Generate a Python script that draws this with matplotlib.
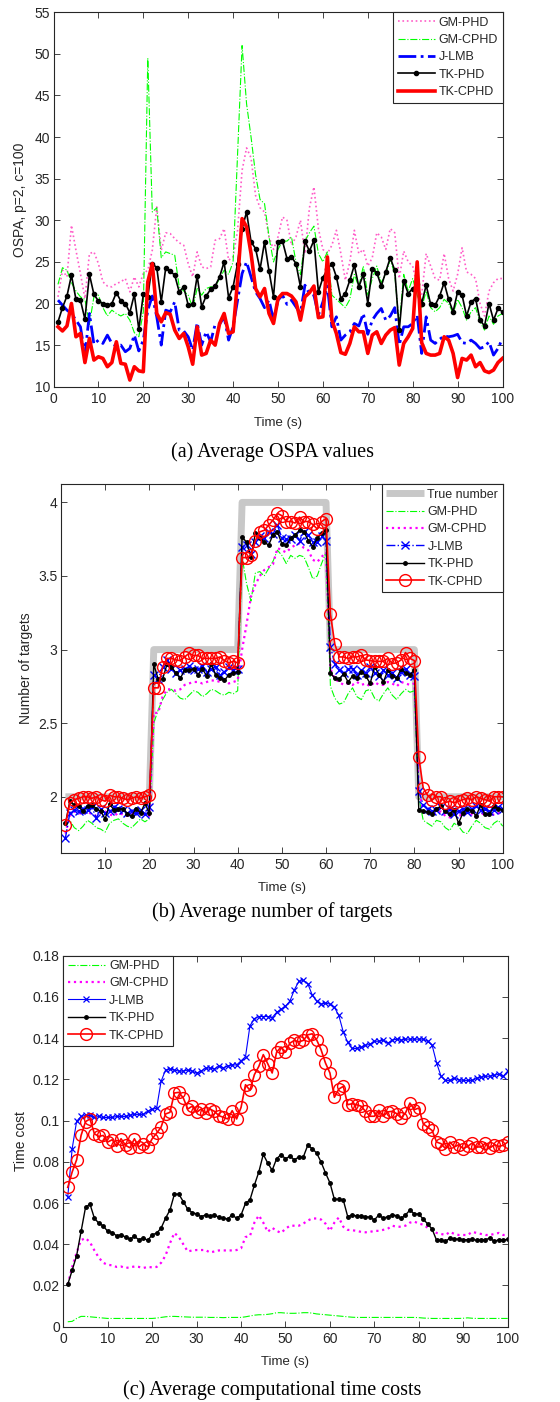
import numpy as np
import matplotlib
matplotlib.use("Agg")
import matplotlib.pyplot as plt
from matplotlib.ticker import FuncFormatter

plt.rcParams['font.family'] = ['Liberation Sans', 'DejaVu Sans']
plt.rcParams['text.color'] = '#262626'
plt.rcParams['axes.labelcolor'] = '#262626'
plt.rcParams['xtick.color'] = '#262626'
plt.rcParams['ytick.color'] = '#262626'

time_steps = list(range(1, 101))

# ---------------- (a) OSPA ----------------
ospa_gm_phd = [20.8, 24.0, 23.2, 29.4, 26.4, 23.6, 20.6, 26.0, 26.2, 24.8,
               22.6, 22.1, 22.0, 22.4, 22.6, 23.0, 21.4, 23.2, 22.0, 23.6,
               24.0, 26.4, 31.6, 26.4, 28.5, 28.4, 27.8, 27.3, 27.0, 24.8,
               23.2, 26.2, 24.4, 24.2, 24.4, 27.6, 27.8, 29.0, 25.2, 25.6,
               28.8, 36.0, 38.7, 37.5, 33.0, 31.5, 31.0, 28.0, 26.5, 28.0,
               30.4, 30.0, 27.0, 28.0, 30.0, 26.0, 31.5, 34.0, 29.0, 26.5,
               26.0, 27.0, 28.8, 26.0, 22.8, 25.0, 28.8, 26.0, 26.5, 24.5,
               25.5, 28.5, 28.0, 26.5, 29.0, 28.5, 23.0, 26.3, 25.0, 24.5,
               22.0, 21.0, 26.0, 24.5, 23.0, 22.8, 26.0, 23.0, 21.5, 23.5,
               26.7, 23.8, 23.5, 23.0, 20.0, 18.5, 21.5, 22.5, 23.0, 23.0]
ospa_gm_cphd = [22.3, 24.3, 24.0, 22.5, 21.5, 20.8, 20.5, 17.5, 20.8, 21.0,
                19.5, 18.5, 19.2, 18.8, 18.5, 18.8, 18.0, 16.5, 16.0, 19.0,
                49.5, 31.0, 31.5, 25.5, 26.2, 26.0, 25.8, 22.0, 21.5, 21.0,
                19.5, 21.8, 21.0, 21.8, 22.0, 22.0, 23.0, 24.0, 23.5, 25.0,
                38.0, 51.0, 44.0, 40.0, 35.5, 32.5, 32.0, 28.0, 25.0, 26.5,
                27.5, 27.5, 28.0, 25.0, 23.5, 27.5, 28.5, 29.3, 26.0, 25.0,
                26.2, 21.0, 20.5, 20.0, 19.5, 20.5, 23.5, 22.0, 24.5, 21.0,
                23.0, 24.5, 22.5, 23.5, 25.3, 23.5, 17.5, 23.5, 21.5, 23.0,
                21.0, 19.5, 21.5, 19.5, 19.0, 19.5, 20.5, 20.0, 18.8, 20.5,
                19.5, 18.0, 19.0, 19.5, 17.8, 16.8, 18.5, 17.5, 18.5, 18.8]
ospa_j_lmb = [20.4, 19.8, 19.2, 18.8, 18.0, 17.2, 13.8, 18.8, 15.1, 15.6,
              15.2, 16.2, 15.2, 14.9, 15.0, 14.2, 14.6, 16.2, 14.3, 15.6,
              19.2, 20.9, 18.4, 15.0, 19.2, 19.0, 20.2, 16.8, 16.7, 16.0,
              14.4, 17.7, 15.0, 16.6, 15.4, 17.5, 17.5, 18.4, 15.6, 17.2,
              20.4, 23.6, 25.0, 23.2, 21.4, 20.6, 19.5, 20.4, 18.0, 20.4,
              21.0, 19.9, 20.4, 19.6, 18.8, 22.2, 21.2, 21.0, 18.6, 20.2,
              22.1, 17.2, 18.4, 15.6, 16.2, 16.6, 17.6, 17.3, 18.8, 16.3,
              18.0, 18.8, 19.4, 18.0, 18.5, 19.5, 15.0, 17.2, 17.2, 17.6,
              18.6, 14.0, 18.4, 15.6, 15.2, 15.7, 16.1, 16.0, 16.1, 16.3,
              15.3, 15.2, 15.6, 15.2, 14.6, 14.8, 15.4, 13.8, 14.6, 15.8]
ospa_tk_phd = [17.8, 19.5, 20.9, 23.4, 20.5, 20.4, 18.1, 23.5, 21.1, 20.3,
               20.0, 19.8, 20.0, 21.3, 20.3, 20.0, 18.9, 21.1, 16.9, 21.1,
               20.8, 24.8, 24.3, 20.2, 24.3, 23.9, 23.4, 21.4, 22.0, 19.8,
               19.9, 23.3, 19.6, 20.9, 21.7, 22.1, 23.2, 25.0, 20.7, 22.0,
               24.8, 29.0, 31.0, 27.4, 26.6, 24.1, 27.4, 23.9, 20.8, 27.4,
               27.5, 25.4, 25.6, 24.8, 22.0, 27.5, 26.3, 27.6, 21.4, 23.1,
               24.1, 24.8, 23.2, 20.6, 21.2, 22.8, 24.6, 22.0, 23.5, 20.0,
               24.2, 23.7, 22.1, 23.8, 25.5, 24.0, 16.8, 22.7, 21.2, 21.8,
               22.3, 20.0, 22.2, 19.9, 19.8, 20.9, 22.5, 20.5, 19.0, 21.4,
               21.0, 18.5, 20.2, 20.6, 18.0, 17.3, 20.0, 18.0, 19.4, 19.0]
ospa_tk_cphd = [17.2, 16.7, 17.3, 20.0, 16.0, 16.4, 12.9, 15.8, 13.2, 13.6,
                13.4, 12.4, 12.9, 15.4, 12.8, 12.7, 10.8, 12.4, 11.9, 11.8,
                22.6, 24.8, 18.8, 17.8, 18.9, 18.7, 16.8, 15.8, 16.4, 14.8,
                12.7, 17.2, 13.8, 14.0, 15.6, 15.0, 17.6, 18.8, 16.4, 16.6,
                22.8, 30.2, 29.2, 26.0, 21.8, 20.8, 21.8, 18.8, 17.6, 20.6,
                21.2, 21.2, 20.9, 20.2, 18.0, 20.8, 21.3, 22.1, 18.3, 18.4,
                25.6, 18.0, 16.4, 14.1, 13.9, 15.2, 17.2, 16.6, 16.6, 14.0,
                16.2, 16.6, 15.2, 16.2, 16.8, 17.1, 12.6, 15.2, 16.0, 17.0,
                25.0, 15.3, 14.0, 13.8, 13.8, 14.0, 16.0, 15.6, 14.0, 11.1,
                13.4, 13.2, 13.8, 12.4, 12.9, 11.9, 11.7, 12.0, 12.9, 13.4]

# ---------------- (b) Number of targets ----------------
card_true = [2] * 20 + [3] * 20 + [4] * 20 + [3] * 20 + [2] * 20
card_gm_phd = [1.80, 1.84, 1.79, 1.77, 1.80, 1.84, 1.82, 1.79, 1.78, 1.76,
               1.82, 1.84, 1.85, 1.82, 1.80, 1.79, 1.82, 1.85, 1.83, 1.85,
               2.50, 2.59, 2.66, 2.71, 2.73, 2.70, 2.67, 2.66, 2.69, 2.72,
               2.71, 2.68, 2.70, 2.73, 2.72, 2.70, 2.69, 2.71, 2.70, 2.72,
               3.63, 3.45, 3.33, 3.52, 3.53, 3.50, 3.55, 3.60, 3.675, 3.64,
               3.585, 3.64, 3.62, 3.64, 3.63, 3.56, 3.48, 3.50, 3.585, 3.66,
               2.75, 2.67, 2.63, 2.64, 2.70, 2.74, 2.68, 2.66, 2.72, 2.73,
               2.67, 2.65, 2.70, 2.74, 2.69, 2.66, 2.70, 2.73, 2.71, 2.72,
               2.00, 1.84, 1.82, 1.80, 1.84, 1.83, 1.79, 1.77, 1.82, 1.80,
               1.76, 1.75, 1.80, 1.84, 1.82, 1.79, 1.78, 1.82, 1.84, 1.80]
card_gm_cphd = [1.75, 1.87, 1.90, 1.89, 1.88, 1.90, 1.88, 1.87, 1.89, 1.90,
                1.88, 1.87, 1.89, 1.88, 1.87, 1.88, 1.90, 1.89, 1.88, 1.87,
                2.57, 2.57, 2.68, 2.73, 2.73, 2.72, 2.73, 2.76, 2.77, 2.78,
                2.78, 2.77, 2.78, 2.79, 2.79, 2.78, 2.79, 2.77, 2.78, 2.79,
                3.00, 3.17, 3.36, 3.44, 3.50, 3.54, 3.56, 3.58, 3.69, 3.675,
                3.66, 3.69, 3.71, 3.72, 3.69, 3.675, 3.61, 3.595, 3.63, 3.66,
                2.87, 2.80, 2.78, 2.76, 2.77, 2.76, 2.78, 2.76, 2.77, 2.75,
                2.78, 2.76, 2.76, 2.78, 2.77, 2.75, 2.78, 2.77, 2.76, 2.77,
                2.05, 1.90, 1.89, 1.88, 1.89, 1.90, 1.87, 1.86, 1.88, 1.87,
                1.88, 1.89, 1.88, 1.87, 1.88, 1.89, 1.87, 1.88, 1.89, 1.88]
card_j_lmb = [1.72, 1.89, 1.91, 1.90, 1.92, 1.91, 1.93, 1.855, 1.92, 1.89,
              1.90, 1.93, 1.92, 1.91, 1.89, 1.90, 1.89, 1.91, 1.885, 1.93,
              2.83, 2.80, 2.88, 2.93, 2.87, 2.84, 2.86, 2.87, 2.89, 2.86,
              2.87, 2.89, 2.85, 2.87, 2.88, 2.83, 2.85, 2.88, 2.86, 2.87,
              3.70, 3.71, 3.65, 3.73, 3.77, 3.755, 3.80, 3.785, 3.845, 3.76,
              3.75, 3.75, 3.78, 3.74, 3.80, 3.78, 3.73, 3.73, 3.77, 3.74,
              3.02, 2.90, 2.86, 2.84, 2.87, 2.87, 2.83, 2.86, 2.84, 2.885,
              2.84, 2.82, 2.86, 2.83, 2.84, 2.81, 2.85, 2.87, 2.83, 2.82,
              2.04, 1.945, 1.915, 1.90, 1.91, 1.93, 1.90, 1.915, 1.885, 1.90,
              1.92, 1.895, 1.92, 1.935, 1.91, 1.92, 1.90, 1.91, 1.93, 1.915]
card_tk_phd = [1.82, 1.97, 1.945, 1.935, 1.90, 1.935, 1.945, 1.92, 1.90, 1.85,
               1.95, 1.91, 1.915, 1.92, 1.885, 1.87, 1.92, 1.89, 1.955, 1.89,
               2.90, 2.80, 2.80, 2.90, 2.885, 2.84, 2.805, 2.86, 2.86, 2.87,
               2.83, 2.87, 2.82, 2.90, 2.83, 2.805, 2.79, 2.83, 2.84, 2.85,
               3.765, 3.73, 3.63, 3.79, 3.755, 3.73, 3.71, 3.78, 3.80, 3.72,
               3.71, 3.76, 3.78, 3.81, 3.80, 3.74, 3.70, 3.755, 3.79, 3.81,
               2.84, 2.805, 2.80, 2.835, 2.78, 2.82, 2.805, 2.85, 2.82, 2.77,
               2.885, 2.83, 2.78, 2.86, 2.82, 2.805, 2.87, 2.84, 2.83, 2.86,
               1.91, 1.905, 1.895, 1.885, 1.92, 1.935, 1.90, 1.885, 1.91, 1.82,
               1.89, 1.92, 1.905, 1.87, 1.945, 1.88, 1.88, 1.935, 1.92, 1.91]
card_tk_cphd = [1.81, 1.957, 1.98, 1.99, 2.00, 2.00, 1.99, 2.00, 1.98, 1.97,
                2.01, 2.00, 2.00, 1.99, 1.98, 1.99, 2.00, 1.99, 2.00, 2.01,
                2.74, 2.74, 2.88, 2.94, 2.94, 2.93, 2.925, 2.95, 2.975, 2.96,
                2.96, 2.94, 2.94, 2.94, 2.94, 2.95, 2.925, 2.91, 2.92, 2.91,
                3.625, 3.625, 3.64, 3.74, 3.80, 3.81, 3.845, 3.88, 3.925, 3.91,
                3.87, 3.87, 3.86, 3.90, 3.87, 3.87, 3.85, 3.82, 3.87, 3.89,
                3.24, 3.035, 2.95, 2.95, 2.94, 2.95, 2.95, 2.96, 2.93, 2.925,
                2.92, 2.92, 2.92, 2.94, 2.905, 2.91, 2.93, 2.98, 2.94, 2.925,
                2.27, 2.06, 2.01, 1.98, 2.00, 2.00, 1.96, 1.97, 1.96, 1.97,
                1.98, 1.99, 1.98, 2.00, 1.99, 1.98, 1.97, 2.00, 2.00, 2.00]

# ---------------- (c) Computational time ----------------
cost_gm_phd = [0.0024, 0.0026, 0.0040, 0.0050, 0.0050, 0.0048, 0.0046, 0.0044, 0.0042, 0.0040,
               0.0040, 0.0040, 0.0040, 0.0040, 0.0040, 0.0040, 0.0040, 0.0040, 0.0040, 0.0040,
               0.0042, 0.0045, 0.0048, 0.0050, 0.0050, 0.0049, 0.0048, 0.0047, 0.0046, 0.0046,
               0.0046, 0.0046, 0.0045, 0.0045, 0.0045, 0.0044, 0.0045, 0.0045, 0.0045, 0.0045,
               0.0048, 0.0052, 0.0056, 0.0058, 0.0058, 0.0060, 0.0063, 0.0068, 0.0068, 0.0066,
               0.0065, 0.0065, 0.0066, 0.0068, 0.0068, 0.0066, 0.0062, 0.0060, 0.0058, 0.0056,
               0.0054, 0.0052, 0.0050, 0.0048, 0.0046, 0.0045, 0.0045, 0.0045, 0.0045, 0.0045,
               0.0045, 0.0045, 0.0045, 0.0045, 0.0045, 0.0045, 0.0045, 0.0045, 0.0045, 0.0044,
               0.0042, 0.0041, 0.0040, 0.0040, 0.0040, 0.0040, 0.0040, 0.0040, 0.0040, 0.0041,
               0.0043, 0.0041, 0.0040, 0.0040, 0.0040, 0.0040, 0.0040, 0.0040, 0.0040, 0.0040]
cost_gm_cphd = [0.0205, 0.029, 0.036, 0.042, 0.043, 0.041, 0.037, 0.0335, 0.031, 0.030,
                0.0298, 0.029, 0.0292, 0.0285, 0.0288, 0.0292, 0.029, 0.0285, 0.029, 0.0288,
                0.029, 0.031, 0.0345, 0.0405, 0.0455, 0.0435, 0.040, 0.0365, 0.037, 0.0372,
                0.0372, 0.0372, 0.036, 0.0365, 0.037, 0.037, 0.037, 0.037, 0.0372, 0.038,
                0.0435, 0.044, 0.0505, 0.054, 0.0505, 0.046, 0.048, 0.0465, 0.0455, 0.0475,
                0.049, 0.049, 0.049, 0.050, 0.0515, 0.0525, 0.0525, 0.052, 0.050, 0.0465,
                0.0505, 0.053, 0.0485, 0.047, 0.0468, 0.0465, 0.046, 0.0458, 0.046, 0.0465,
                0.0465, 0.047, 0.0475, 0.049, 0.0485, 0.0485, 0.049, 0.0505, 0.051, 0.050,
                0.0495, 0.048, 0.047, 0.0455, 0.045, 0.0445, 0.046, 0.045, 0.0445, 0.0445,
                0.0445, 0.046, 0.0455, 0.045, 0.0445, 0.0445, 0.045, 0.0455, 0.0445, 0.0445]
cost_j_lmb = [0.063, 0.0864, 0.0997, 0.102, 0.1025, 0.1025, 0.1015, 0.102, 0.1015, 0.1015,
              0.1015, 0.102, 0.102, 0.102, 0.1025, 0.103, 0.103, 0.103, 0.1045, 0.1055,
              0.106, 0.119, 0.1245, 0.125, 0.1245, 0.124, 0.124, 0.1245, 0.124, 0.123,
              0.124, 0.1255, 0.1255, 0.125, 0.1265, 0.1255, 0.1265, 0.127, 0.127, 0.129,
              0.131, 0.146, 0.1495, 0.1505, 0.1505, 0.1505, 0.150, 0.1525, 0.154, 0.1555,
              0.158, 0.1635, 0.1675, 0.168, 0.1665, 0.161, 0.158, 0.1565, 0.157, 0.1565,
              0.155, 0.151, 0.143, 0.138, 0.135, 0.135, 0.1355, 0.1365, 0.137, 0.1385,
              0.1385, 0.139, 0.1375, 0.139, 0.1395, 0.139, 0.1395, 0.1395, 0.1395, 0.1395,
              0.1395, 0.1385, 0.1365, 0.128, 0.1215, 0.1195, 0.1195, 0.1205, 0.1198, 0.1195,
              0.1195, 0.1195, 0.1205, 0.121, 0.1215, 0.1215, 0.122, 0.1225, 0.1215, 0.124]
cost_tk_phd = [0.0205, 0.0274, 0.0345, 0.0462, 0.0579, 0.0595, 0.0526, 0.0502, 0.0489, 0.0462,
               0.0457, 0.0441, 0.0446, 0.0435, 0.0425, 0.0438, 0.0422, 0.043, 0.0419, 0.0446,
               0.0454, 0.0478, 0.0526, 0.0566, 0.0643, 0.0643, 0.0607, 0.057, 0.0554, 0.0547,
               0.0534, 0.0542, 0.0537, 0.0542, 0.0531, 0.0526, 0.0523, 0.0542, 0.0526, 0.0542,
               0.0599, 0.0615, 0.0687, 0.0751, 0.0836, 0.0794, 0.0759, 0.0815, 0.0835, 0.0815,
               0.0827, 0.081, 0.0823, 0.0823, 0.088, 0.0864, 0.0843, 0.0799, 0.0746, 0.0698,
               0.0618, 0.0618, 0.0615, 0.0534, 0.0542, 0.0537, 0.0537, 0.0534, 0.0531, 0.0518,
               0.0542, 0.0526, 0.0534, 0.0542, 0.0539, 0.0526, 0.0542, 0.0566, 0.0547, 0.0547,
               0.0521, 0.0499, 0.0473, 0.0419, 0.0419, 0.0414, 0.043, 0.0425, 0.0425, 0.0422,
               0.0422, 0.0425, 0.0419, 0.0422, 0.0422, 0.043, 0.0414, 0.0422, 0.0419, 0.0425]
cost_tk_cphd = [0.0676, 0.0751, 0.081, 0.0928, 0.0995, 0.1008, 0.0936, 0.0923, 0.0928, 0.0896,
                0.0907, 0.0875, 0.0912, 0.088, 0.0868, 0.0912, 0.0872, 0.0888, 0.0872, 0.0912,
                0.0939, 0.0968, 0.1032, 0.104, 0.1134, 0.1137, 0.111, 0.1056, 0.107, 0.104,
                0.1056, 0.1035, 0.1056, 0.1045, 0.1024, 0.1016, 0.1008, 0.1048, 0.1008, 0.1064,
                0.1174, 0.1147, 0.1223, 0.1263, 0.132, 0.1276, 0.1231, 0.1332, 0.1357, 0.1332,
                0.1376, 0.1389, 0.1382, 0.1389, 0.1416, 0.1421, 0.1392, 0.1344, 0.1279, 0.1231,
                0.1113, 0.1153, 0.1166, 0.1077, 0.1082, 0.1077, 0.107, 0.1045, 0.1021, 0.1021,
                0.105, 0.1021, 0.1042, 0.1045, 0.1034, 0.1013, 0.1037, 0.1085, 0.1053, 0.1061,
                0.0984, 0.0968, 0.0952, 0.0896, 0.0888, 0.0864, 0.0896, 0.0872, 0.0883, 0.0864,
                0.0875, 0.0891, 0.0872, 0.0872, 0.0891, 0.0867, 0.0883, 0.0875, 0.088, 0.0896]

W, H = 560, 1402
fig = plt.figure(figsize=(W / 100, H / 100), dpi=100)

AX_COLOR = '#262626'
GREEN = '#00FF00'
MAGENTA = '#FF00FF'
PINK = '#FF5CC8'
BLUE = '#0000FF'
RED = '#FF0000'


def axes_px(left, right, top, bottom):
    return fig.add_axes([left / W, 1 - bottom / H, (right - left) / W, (bottom - top) / H])


def style_axes(ax):
    for s in ax.spines.values():
        s.set_color(AX_COLOR)
        s.set_linewidth(0.8)
    ax.tick_params(direction='in', top=True, right=True, length=4, width=0.6,
                   labelsize=10)
    ax.tick_params(axis='x', pad=4)
    ax.tick_params(axis='y', pad=2.5)
    fmt = FuncFormatter(lambda v, p: '%g' % round(v, 6))
    ax.yaxis.set_major_formatter(fmt)


def legend(ax, loc):
    lg = ax.legend(loc=loc, fontsize=9, frameon=True, fancybox=False,
                   framealpha=1, edgecolor=AX_COLOR, borderaxespad=0,
                   handlelength=3.0, handletextpad=0.3, labelspacing=0.43,
                   borderpad=0.35)
    lg.get_frame().set_linewidth(0.8)
    return lg


# (a) ------------------------------------------------------------
ax1 = axes_px(53.5, 502.5, 12.3, 386.7)
ax1.plot(time_steps, ospa_gm_phd, ':', color=PINK, lw=1.2, label='GM-PHD')
ax1.plot(time_steps, ospa_gm_cphd, '-.', color=GREEN, lw=0.8, label='GM-CPHD')
ax1.plot(time_steps, ospa_j_lmb, '-.', color=BLUE, lw=2.0, label='J-LMB')
ax1.plot(time_steps, ospa_tk_phd, '-', color='black', lw=1.2, marker='.',
         ms=6, label='TK-PHD')
ax1.plot(time_steps, ospa_tk_cphd, '-', color=RED, lw=2.6, label='TK-CPHD')
ax1.set_xlim(0, 100)
ax1.set_ylim(10, 55)
ax1.set_xticks(range(0, 101, 10))
ax1.set_yticks(range(10, 56, 5))
style_axes(ax1)
ax1.set_xlabel('Time (s)', fontsize=9.5, va='center')
ax1.xaxis.set_label_coords(0.5, -(423 - 386.7) / 374.4)
ax1.set_ylabel('OSPA, p=2, c=100', fontsize=10, va='center')
ax1.yaxis.set_label_coords(-33 / 449, 0.5)
legend(ax1, 'upper right')

# (b) ------------------------------------------------------------
ax2 = axes_px(61.0, 502.7, 484.3, 852.7)
ax2.plot(time_steps, card_true, '-', color='#C8C8C8', lw=5,
         solid_capstyle='butt', label='True number')
ax2.plot(time_steps, card_gm_phd, '-.', color=GREEN, lw=0.8, label='GM-PHD')
ax2.plot(time_steps, card_gm_cphd, ':', color=MAGENTA, lw=1.6, label='GM-CPHD')
ax2.plot(time_steps, card_j_lmb, '-.', color=BLUE, lw=1.0, marker='x', ms=6,
         mew=1.0, label='J-LMB')
ax2.plot(time_steps, card_tk_phd, '-', color='black', lw=1.0, marker='.', ms=5,
         label='TK-PHD')
ax2.plot(time_steps, card_tk_cphd, '-', color=RED, lw=1.2, marker='o', ms=8.5,
         mfc='none', mew=1.0, label='TK-CPHD')
ax2.set_xlim(0, 100)
ax2.set_ylim(1.62, 4.123)
ax2.set_xticks(range(10, 101, 10))
ax2.set_yticks([2, 2.5, 3, 3.5, 4])
style_axes(ax2)
ax2.set_xlabel('Time (s)', fontsize=9.5, va='center')
ax2.xaxis.set_label_coords(0.5, -(888 - 852.7) / 368.4)
ax2.set_ylabel('Number of targets', fontsize=10, va='center')
ax2.yaxis.set_label_coords(-35 / 441.7, 0.5)
legend(ax2, 'upper right')

# (c) ------------------------------------------------------------
ax3 = axes_px(63.3, 507.7, 955.7, 1326.7)
ax3.plot(time_steps, cost_gm_phd, '-.', color=GREEN, lw=0.8, label='GM-PHD')
ax3.plot(time_steps, cost_gm_cphd, ':', color=MAGENTA, lw=1.6, label='GM-CPHD')
ax3.plot(time_steps, cost_j_lmb, '-', color=BLUE, lw=0.8, marker='x', ms=5,
         mew=0.9, label='J-LMB')
ax3.plot(time_steps, cost_tk_phd, '-', color='black', lw=1.0, marker='.', ms=5,
         label='TK-PHD')
ax3.plot(time_steps, cost_tk_cphd, '-', color=RED, lw=1.2, marker='o', ms=8.5,
         mfc='none', mew=1.0, label='TK-CPHD')
ax3.set_xlim(0, 100)
ax3.set_ylim(0, 0.18)
ax3.set_xticks(range(0, 101, 10))
ax3.set_yticks(np.arange(0, 0.181, 0.02))
style_axes(ax3)
ax3.set_xlabel('Time (s)', fontsize=9.5, va='center')
ax3.xaxis.set_label_coords(0.5, -(1362 - 1326.7) / 371.0)
ax3.set_ylabel('Time cost', fontsize=10, va='center')
ax3.yaxis.set_label_coords(-42 / 444.4, 0.5)
legend(ax3, 'upper left')

# Sub-figure captions
cap = dict(ha='center', va='center', fontsize=14.5, color='black',
           family=['Liberation Serif', 'DejaVu Serif'])
fig.text(272.5 / W, 1 - 451.7 / H, '(a) Average OSPA values', **cap)
fig.text(272.5 / W, 1 - 912 / H, '(b) Average number of targets', **cap)
fig.text(272.5 / W, 1 - 1390 / H, '(c) Average computational time costs', **cap)

fig.savefig('out.png', dpi=100, facecolor='white')
